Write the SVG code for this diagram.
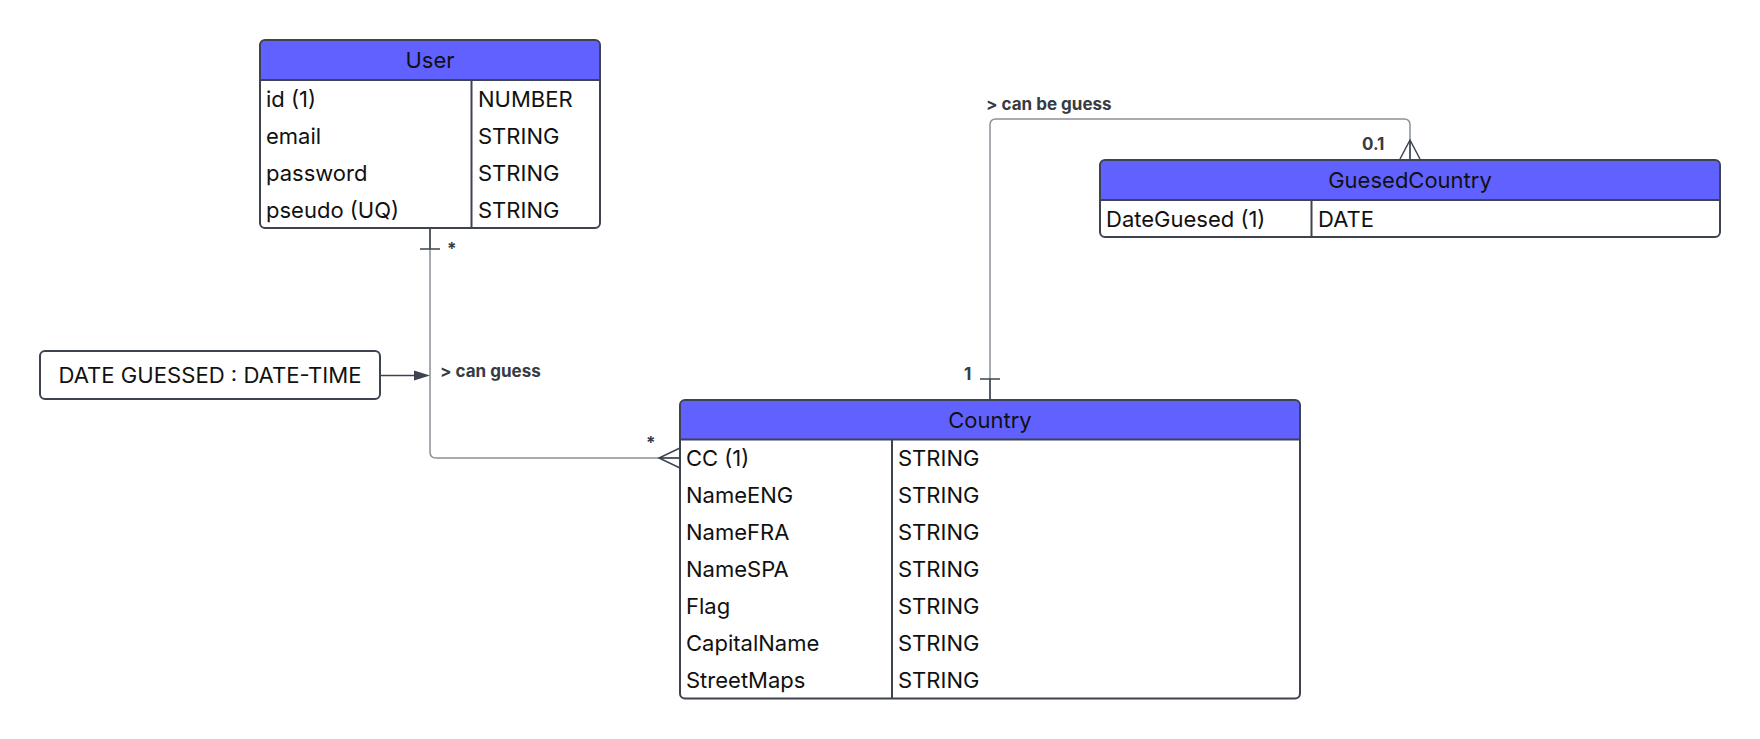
<svg xmlns="http://www.w3.org/2000/svg" width="1760" height="739" viewBox="0 0 1760 739">
  <style>
    .frame { fill: none; stroke: #3d4350; stroke-width: 2; }
    .body { fill: #ffffff; }
    .head { fill: #6161ff; }
    .sep { stroke: #3d4350; stroke-width: 2; }
    .title { font-family: Inter, "Noto Sans", sans-serif; font-size: 22px; fill: #111111; text-anchor: middle; }
    .cell { font-family: Inter, "Noto Sans", sans-serif; font-size: 22px; fill: #111111; }
    .note { font-family: Inter, "Noto Sans", sans-serif; font-size: 21px; fill: #111111; text-anchor: middle; }
    .lbl { font-family: Inter, "Noto Sans", sans-serif; font-size: 17px; font-weight: 700; fill: #363b44; }
    .wire { fill: none; stroke: #8b9099; stroke-width: 1.5; }
    .end { fill: none; stroke: #3d4350; stroke-width: 1.5; }
  </style>

  <!-- relationship lines -->
  <g id="connectors">
    <!-- User to Country: "can guess" -->
    <path class="wire" d="M430,228 V452 Q430,458 436,458 H680"/>
    <path class="end" d="M430,228 V249 M420,249 H440"/>
    <path class="end" d="M680,448 L659,458 L680,468 M659,458 H680"/>
    <text class="lbl" x="447" y="255">*</text>
    <text class="lbl" x="646" y="449">*</text>
    <text class="lbl" x="440" y="377">&gt; can guess</text>

    <!-- Country to GuesedCountry: "can be guess" -->
    <path class="wire" d="M990,400 V125 Q990,119 996,119 H1404 Q1410,119 1410,125 V159"/>
    <path class="end" d="M990,400 V379 M980,379 H1000"/>
    <path class="end" d="M1400,159 L1410,140 L1420,159 M1410,140 V159"/>
    <text class="lbl" x="964" y="380">1</text>
    <text class="lbl" x="1362" y="150">0.1</text>
    <text class="lbl" x="986" y="110">&gt; can be guess</text>

    <!-- association note arrow -->
    <path class="end" d="M380,375.5 H415"/>
    <polygon points="414,370.5 430,375.5 414,380.5" fill="#3d4350"/>
  </g>

  <!-- User entity -->
  <g id="user">
    <rect class="body" x="260" y="40" width="340" height="188" rx="5"/>
    <path class="head" d="M260,80 V45 Q260,40 265,40 H595 Q600,40 600,45 V80 Z"/>
    <line class="sep" x1="260" y1="80" x2="600" y2="80"/>
    <line class="sep" x1="471.5" y1="80" x2="471.5" y2="228"/>
    <rect class="frame" x="260" y="40" width="340" height="188" rx="5"/>
    <text class="title" x="430" y="68">User</text>
    <text class="cell" x="266" y="106.5">id (1)</text>
    <text class="cell" x="478" y="106.5">NUMBER</text>
    <text class="cell" x="266" y="143.5">email</text>
    <text class="cell" x="478" y="143.5">STRING</text>
    <text class="cell" x="266" y="180.5">password</text>
    <text class="cell" x="478" y="180.5">STRING</text>
    <text class="cell" x="266" y="217.5">pseudo (UQ)</text>
    <text class="cell" x="478" y="217.5">STRING</text>
  </g>

  <!-- Association attribute note -->
  <g id="date-guessed">
    <rect class="body" x="40" y="351" width="340" height="48" rx="5"/>
    <rect class="frame" x="40" y="351" width="340" height="48" rx="5"/>
    <text class="note" x="210" y="382.5" textLength="303" lengthAdjust="spacingAndGlyphs">DATE GUESSED : DATE-TIME</text>
  </g>

  <!-- GuesedCountry entity -->
  <g id="guesed-country">
    <rect class="body" x="1100" y="160" width="620" height="77" rx="5"/>
    <path class="head" d="M1100,200 V165 Q1100,160 1105,160 H1715 Q1720,160 1720,165 V200 Z"/>
    <line class="sep" x1="1100" y1="200" x2="1720" y2="200"/>
    <line class="sep" x1="1311.5" y1="200" x2="1311.5" y2="237"/>
    <rect class="frame" x="1100" y="160" width="620" height="77" rx="5"/>
    <text class="title" x="1410" y="188">GuesedCountry</text>
    <text class="cell" x="1106" y="226.5">DateGuesed (1)</text>
    <text class="cell" x="1318" y="226.5">DATE</text>
  </g>

  <!-- Country entity -->
  <g id="country">
    <rect class="body" x="680" y="400" width="620" height="298.5" rx="5"/>
    <path class="head" d="M680,439.5 V405 Q680,400 685,400 H1295 Q1300,400 1300,405 V439.5 Z"/>
    <line class="sep" x1="680" y1="439.5" x2="1300" y2="439.5"/>
    <line class="sep" x1="892" y1="439.5" x2="892" y2="698.5"/>
    <rect class="frame" x="680" y="400" width="620" height="298.5" rx="5"/>
    <text class="title" x="990" y="428">Country</text>
    <text class="cell" x="686" y="466">CC (1)</text>
    <text class="cell" x="898" y="466">STRING</text>
    <text class="cell" x="686" y="503">NameENG</text>
    <text class="cell" x="898" y="503">STRING</text>
    <text class="cell" x="686" y="540">NameFRA</text>
    <text class="cell" x="898" y="540">STRING</text>
    <text class="cell" x="686" y="577">NameSPA</text>
    <text class="cell" x="898" y="577">STRING</text>
    <text class="cell" x="686" y="614">Flag</text>
    <text class="cell" x="898" y="614">STRING</text>
    <text class="cell" x="686" y="651">CapitalName</text>
    <text class="cell" x="898" y="651">STRING</text>
    <text class="cell" x="686" y="688">StreetMaps</text>
    <text class="cell" x="898" y="688">STRING</text>
  </g>
</svg>
